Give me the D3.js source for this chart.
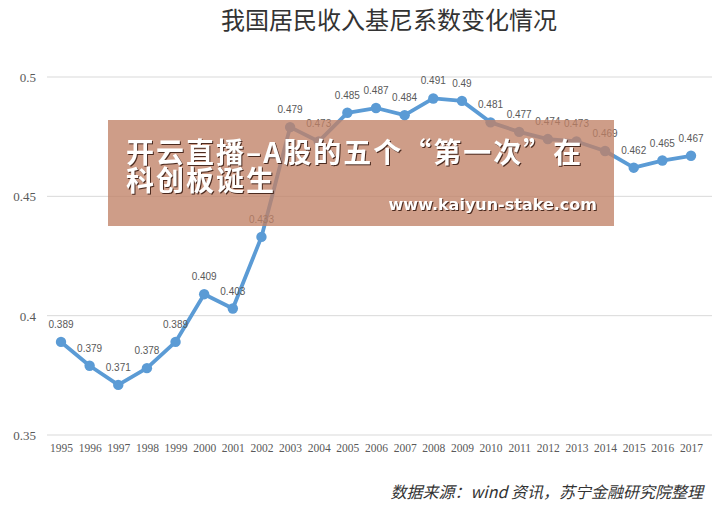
<!DOCTYPE html>
<html><head><meta charset="utf-8">
<script src="https://cdn.jsdelivr.net/npm/d3@7"></script>
<style>body{margin:0;background:#fff}svg{display:block}</style>
</head><body><div id="c"></div>
<script>
const years = ["1995","1996","1997","1998","1999","2000","2001","2002","2003","2004","2005","2006","2007","2008","2009","2010","2011","2012","2013","2014","2015","2016","2017"];
const gini = [0.389,0.379,0.371,0.378,0.389,0.409,0.403,0.433,0.479,0.473,0.485,0.487,0.484,0.491,0.49,0.481,0.477,0.474,0.473,0.469,0.462,0.465,0.467];
const yTicks = [0.35,0.4,0.45,0.5];
const yTickLabels = ["0.35","0.4","0.45","0.5"];
const title = "我国居民收入基尼系数变化情况";
const source = "数据来源：wind 资讯，苏宁金融研究院整理";
const overlayLines = ["开云直播–A股的五个“第一次”在","科创板诞生"];
const overlayUrl = "www.kaiyun-stake.com";

const W=722,H=508;
const svg=d3.select("#c").append("svg").attr("width",W).attr("height",H);
const x=d3.scalePoint().domain(years).range([61,691]);
const y=d3.scaleLinear().domain([0.35,0.5]).range([435,77]);

svg.append("text").attr("x",389).attr("y",29).attr("text-anchor","middle")
  .attr("font-family","Noto Sans CJK SC").attr("font-size",24).attr("fill","#333").text(title);

const grid=svg.append("g");
grid.selectAll("line").data(yTicks).join("line")
  .attr("x1",47).attr("x2",712).attr("y1",d=>y(d)).attr("y2",d=>y(d))
  .attr("stroke","#d9d9d9").attr("stroke-width",1);
grid.selectAll("text").data(yTicks).join("text")
  .attr("x",36).attr("y",d=>y(d)+5).attr("text-anchor","end")
  .attr("font-family","Liberation Serif").attr("font-size",13).attr("fill","#595959")
  .text((d,i)=>yTickLabels[i]);

const xAxis=d3.axisBottom(x).tickSize(0).tickPadding(9);
const gx=svg.append("g").attr("transform","translate(0,435)").call(xAxis);
gx.select(".domain").remove();
gx.selectAll("text").attr("font-family","Liberation Serif").attr("font-size",11.5).attr("fill","#595959");

const line=d3.line().x((d,i)=>x(years[i])).y(d=>y(d));
svg.append("path").datum(gini).attr("d",line).attr("fill","none")
  .attr("stroke","#5b9bd5").attr("stroke-width",3.8).attr("stroke-linejoin","round");
svg.selectAll("circle.p").data(gini).join("circle").attr("class","p")
  .attr("cx",(d,i)=>x(years[i])).attr("cy",d=>y(d)).attr("r",5.2).attr("fill","#5b9bd5");
svg.selectAll("text.l").data(gini).join("text").attr("class","l")
  .attr("x",(d,i)=>x(years[i])).attr("y",d=>y(d)-14).attr("text-anchor","middle")
  .attr("font-family","Liberation Sans Narrow, Liberation Sans").attr("font-size",10).attr("fill","#595959")
  .text(d=>String(d));

svg.append("text").attr("x",703).attr("y",498).attr("text-anchor","end")
  .attr("font-family","Noto Sans CJK SC").attr("font-style","italic")
  .attr("font-size",16).attr("fill","#333").text(source);

// overlay banner
const ov=svg.append("g");
ov.append("rect").attr("x",108).attr("y",120).attr("width",506).attr("height",106)
  .attr("fill","rgb(192,130,102)").attr("opacity",0.78);
const shadow="drop-shadow(1.5px 1.5px 0px rgba(60,30,20,0.9))";
ov.selectAll("text.o").data(overlayLines).join("text").attr("class","o")
  .attr("x",126).attr("y",(d,i)=>163+i*28)
  .attr("font-family","Noto Sans CJK SC").attr("font-weight","bold").attr("font-size",28)
  .attr("letter-spacing",2)
  .attr("fill","#fff").style("filter",shadow).text(d=>d);
ov.append("text").attr("x",597).attr("y",210).attr("text-anchor","end")
  .attr("font-family","DejaVu Sans").attr("font-weight","bold").attr("font-size",16)
  .attr("fill","#fff").style("filter",shadow).text(overlayUrl);
</script></body></html>
